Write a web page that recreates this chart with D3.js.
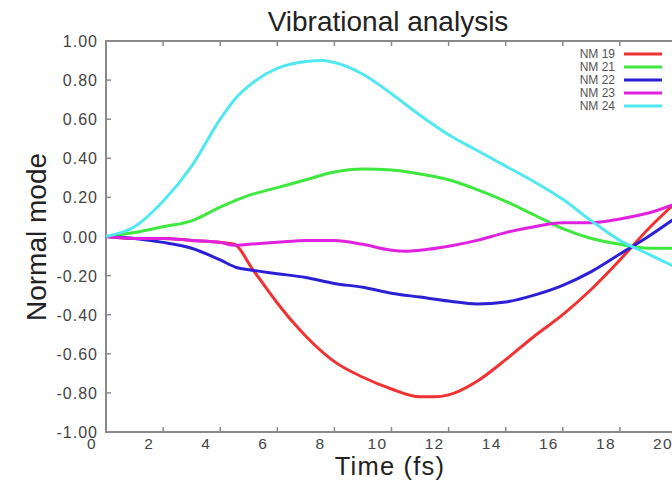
<!DOCTYPE html>
<html>
<head>
<meta charset="utf-8">
<script src="https://cdn.jsdelivr.net/npm/d3@7"></script>
<style>
  body { margin: 0; background: #fff; }
  svg { display: block; font-family: "Liberation Sans", Arial, sans-serif; }
</style>
</head>
<body>
<svg id="chart" width="672" height="481"></svg>
<script>
// series: [time (fs), normal mode]
const nm19 = [[0,0],[1,-0.01],[2,-0.01],[3,-0.02],[4,-0.03],[4.5,-0.04],[5.1,-0.16],[6,-0.34],[6.5,-0.43],[7,-0.51],[8,-0.64],[9,-0.72],[10,-0.78],[11,-0.82],[11.5,-0.82],[12,-0.81],[13,-0.74],[14,-0.63],[15,-0.51],[16,-0.40],[17,-0.27],[18,-0.12],[19,0.04],[20,0.18]]
const nm21 = [[0,0],[1,0.02],[2,0.05],[3,0.08],[4,0.15],[5,0.21],[6,0.25],[7,0.29],[8,0.33],[9,0.345],[10,0.34],[11,0.32],[12,0.29],[13,0.24],[14,0.18],[15,0.11],[16,0.04],[17,-0.01],[18,-0.04],[19,-0.06],[20,-0.06]]
const nm22 = [[0,0],[1,-0.01],[2,-0.03],[3,-0.06],[4,-0.12],[4.6,-0.16],[5,-0.17],[6,-0.19],[7,-0.21],[8,-0.24],[9,-0.26],[10,-0.29],[11,-0.31],[12,-0.33],[13,-0.345],[14,-0.335],[15,-0.30],[16,-0.25],[17,-0.18],[18,-0.09],[19,0.00],[20,0.10]]
const nm23 = [[0,0],[1,-0.01],[2,-0.01],[3,-0.02],[4,-0.03],[4.5,-0.045],[5,-0.04],[6,-0.03],[7,-0.02],[8,-0.02],[9,-0.04],[10,-0.07],[10.5,-0.075],[11,-0.07],[12,-0.05],[13,-0.02],[14,0.02],[15,0.05],[16,0.07],[17,0.07],[18,0.09],[19,0.12],[20,0.17]]
const nm24 = [[0,0],[1,0.05],[2,0.18],[3,0.36],[4,0.60],[4.5,0.70],[5,0.77],[6,0.86],[7,0.895],[7.6,0.90],[8,0.89],[9,0.83],[10,0.73],[11,0.62],[12,0.52],[13,0.44],[14,0.36],[15,0.28],[16,0.19],[17,0.08],[18,-0.02],[19,-0.09],[20,-0.16]]

const seriesNames = ["NM 19", "NM 21", "NM 22", "NM 23", "NM 24"]
const seriesData = [nm19, nm21, nm22, nm23, nm24]
const seriesColors = ["#f03232", "#3ee83e", "#2b20d6", "#e022e0", "#52e8f2"]

const xTicks = [0, 2, 4, 6, 8, 10, 12, 14, 16, 18, 20]
const yTicks = [-1, -0.8, -0.6, -0.4, -0.2, 0, 0.2, 0.4, 0.6, 0.8, 1]

const svg = d3.select("#chart")
const padL = 106, padR = 677, padT = 41, padB = 432
const axisCol = "#8a8a8a"

const x = d3.scaleLinear().domain([0, 20]).range([padL, padR])
const y = d3.scaleLinear().domain([-1, 1]).range([padB, padT])

// frame
svg.append("rect")
    .attr("x", padL).attr("y", padT)
    .attr("width", padR - padL).attr("height", padB - padT)
    .attr("fill", "none").attr("stroke", axisCol).attr("stroke-width", 2)

// ticks, pointing inwards on all four sides
const tickG = svg.append("g").attr("stroke", axisCol).attr("stroke-width", 1.5)
xTicks.slice(1, -1).forEach(t => {
    tickG.append("line").attr("x1", x(t)).attr("x2", x(t)).attr("y1", padB).attr("y2", padB - 5)
    tickG.append("line").attr("x1", x(t)).attr("x2", x(t)).attr("y1", padT).attr("y2", padT + 5)
})
yTicks.slice(1, -1).forEach(t => {
    tickG.append("line").attr("x1", padL).attr("x2", padL + 5).attr("y1", y(t)).attr("y2", y(t))
    tickG.append("line").attr("x1", padR).attr("x2", padR - 5).attr("y1", y(t)).attr("y2", y(t))
})

// tick labels (x labels sit a bit left of their ticks, as in the original)
svg.append("g").selectAll("text").data(xTicks).join("text")
    .attr("x", d => x(d) - 14)
    .attr("y", 448.5)
    .attr("text-anchor", "middle")
    .attr("font-size", 15.5).attr("letter-spacing", 1.3).attr("fill", "#444")
    .text(d => d)

svg.append("g").selectAll("text").data(yTicks).join("text")
    .attr("x", 98)
    .attr("y", d => y(d) + 6)
    .attr("text-anchor", "end")
    .attr("font-size", 16).attr("letter-spacing", 1).attr("fill", "#444")
    .text(d => d3.format(".2f")(d).replace("\u2212", "-"))

// lines
const line = d3.line()
    .x(d => x(d[0]))
    .y(d => y(d[1]))
    .curve(d3.curveMonotoneX)

svg.append("g").selectAll("path").data(seriesData).join("path")
    .attr("d", line)
    .attr("fill", "none")
    .attr("stroke", (d, i) => seriesColors[i])
    .attr("stroke-width", 3)
    .attr("stroke-linejoin", "round")

// legend
const leg = svg.append("g")
seriesNames.forEach((n, i) => {
    const ly = 54 + i * 13
    leg.append("text")
        .attr("x", 615).attr("y", ly + 4)
        .attr("text-anchor", "end")
        .attr("font-size", 12).attr("fill", "#555")
        .text(n)
    leg.append("line")
        .attr("x1", 624).attr("x2", 662)
        .attr("y1", ly).attr("y2", ly)
        .attr("stroke", seriesColors[i]).attr("stroke-width", 3)
})

// titles
svg.append("text")
    .attr("x", 388).attr("y", 31)
    .attr("text-anchor", "middle")
    .attr("font-size", 28).attr("fill", "#222")
    .text("Vibrational analysis")

svg.append("text")
    .attr("x", 390).attr("y", 475)
    .attr("text-anchor", "middle")
    .attr("font-size", 25.5).attr("letter-spacing", 1.2).attr("fill", "#222")
    .text("Time (fs)")

svg.append("text")
    .attr("transform", "translate(46,237) rotate(-90)")
    .attr("text-anchor", "middle")
    .attr("font-size", 28).attr("fill", "#222")
    .text("Normal mode")
</script>
</body>
</html>
